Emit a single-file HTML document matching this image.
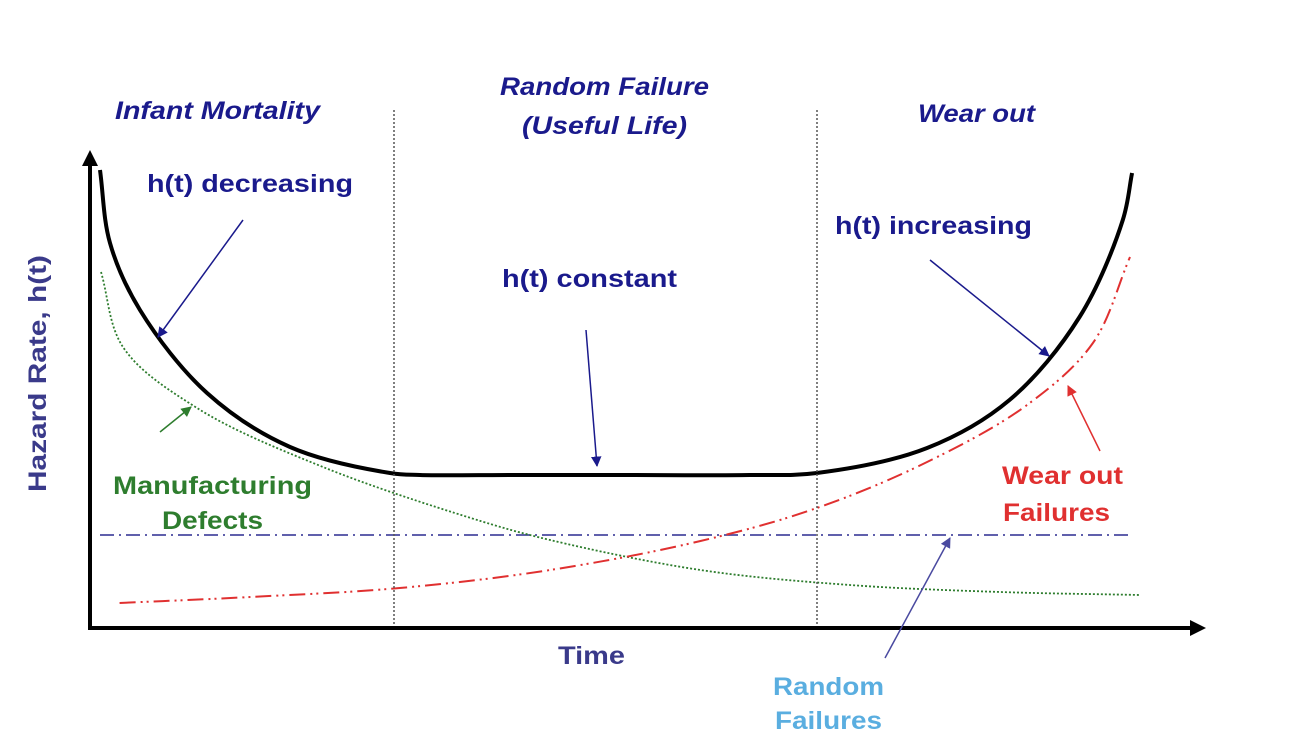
<!DOCTYPE html>
<html><head><meta charset="utf-8"><style>
html,body{margin:0;padding:0;background:#fff}
svg{display:block}
text{font-family:"Liberation Sans",sans-serif;font-weight:bold}
</style></head><body>
<svg width="1296" height="742" viewBox="0 0 1296 742">
<defs>
<marker id="ahn" viewBox="0 0 10 10" refX="9" refY="5" markerWidth="7" markerHeight="7" orient="auto"><path d="M0,0L10,5L0,10z" fill="#1a1a8c"/></marker>
<marker id="ahg" viewBox="0 0 10 10" refX="9" refY="5" markerWidth="7" markerHeight="7" orient="auto"><path d="M0,0L10,5L0,10z" fill="#2e7d2e"/></marker>
<marker id="ahr" viewBox="0 0 10 10" refX="9" refY="5" markerWidth="7" markerHeight="7" orient="auto"><path d="M0,0L10,5L0,10z" fill="#e03030"/></marker>
<marker id="ahb" viewBox="0 0 10 10" refX="9" refY="5" markerWidth="7" markerHeight="7" orient="auto"><path d="M0,0L10,5L0,10z" fill="#4a4aa0"/></marker>
<marker id="axa" viewBox="0 0 10 10" refX="5" refY="5" markerWidth="4" markerHeight="4" orient="auto"><path d="M0,0L10,5L0,10z" fill="#000"/></marker>
</defs>
<g id="plot"></g>
<line x1="394" y1="110" x2="394" y2="628" stroke="#555" stroke-width="1.5" stroke-dasharray="2,2"/>
<line x1="817" y1="110" x2="817" y2="628" stroke="#555" stroke-width="1.5" stroke-dasharray="2,2"/>
<line x1="90" y1="630" x2="90" y2="158" stroke="#000" stroke-width="4" marker-end="url(#axa)"/>
<line x1="88" y1="628" x2="1198" y2="628" stroke="#000" stroke-width="4" marker-end="url(#axa)"/>
<text x="115" y="119" font-size="25" font-style="italic" fill="#1a1a8c" textLength="205" lengthAdjust="spacingAndGlyphs">Infant Mortality</text>
<text x="500" y="95" font-size="25" font-style="italic" fill="#1a1a8c" textLength="209" lengthAdjust="spacingAndGlyphs">Random Failure</text>
<text x="522" y="134" font-size="25" font-style="italic" fill="#1a1a8c" textLength="165" lengthAdjust="spacingAndGlyphs">(Useful Life)</text>
<text x="918" y="122" font-size="25" font-style="italic" fill="#1a1a8c" textLength="117" lengthAdjust="spacingAndGlyphs">Wear out</text>
<text x="147" y="192" font-size="25" fill="#1a1a8c" textLength="206" lengthAdjust="spacingAndGlyphs">h(t) decreasing</text>
<text x="502" y="287" font-size="25" fill="#1a1a8c" textLength="175" lengthAdjust="spacingAndGlyphs">h(t) constant</text>
<text x="835" y="234" font-size="25" fill="#1a1a8c" textLength="197" lengthAdjust="spacingAndGlyphs">h(t) increasing</text>
<text x="113" y="494" font-size="25" fill="#2e7d2e" textLength="199" lengthAdjust="spacingAndGlyphs">Manufacturing</text>
<text x="162" y="529" font-size="25" fill="#2e7d2e" textLength="101" lengthAdjust="spacingAndGlyphs">Defects</text>
<text x="1002" y="484" font-size="25" fill="#e03030" textLength="121" lengthAdjust="spacingAndGlyphs">Wear out</text>
<text x="1003" y="521" font-size="25" fill="#e03030" textLength="107" lengthAdjust="spacingAndGlyphs">Failures</text>
<text x="558" y="664" font-size="25" fill="#3a3a8a" textLength="67" lengthAdjust="spacingAndGlyphs">Time</text>
<text x="773" y="695" font-size="25" fill="#5aaee0" textLength="111" lengthAdjust="spacingAndGlyphs">Random</text>
<text x="775" y="729" font-size="25" fill="#5aaee0" textLength="107" lengthAdjust="spacingAndGlyphs">Failures</text>
<text transform="translate(46,492) rotate(-90)" font-size="25" fill="#3a3a8a" textLength="237" lengthAdjust="spacingAndGlyphs">Hazard Rate, h(t)</text>
<line x1="243" y1="220" x2="158" y2="337" stroke="#1a1a8c" stroke-width="1.5" marker-end="url(#ahn)"/>
<line x1="586" y1="330" x2="597" y2="466" stroke="#1a1a8c" stroke-width="1.5" marker-end="url(#ahn)"/>
<line x1="930" y1="260" x2="1049" y2="356" stroke="#1a1a8c" stroke-width="1.5" marker-end="url(#ahn)"/>
<line x1="160" y1="432" x2="191" y2="407" stroke="#2e7d2e" stroke-width="1.5" marker-end="url(#ahg)"/>
<line x1="1100" y1="451" x2="1068" y2="386" stroke="#e03030" stroke-width="1.5" marker-end="url(#ahr)"/>
<line x1="885" y1="658" x2="950" y2="538" stroke="#4a4aa0" stroke-width="1.5" marker-end="url(#ahb)"/>
</svg>
<script>
const bathT=[0,0.97,3.88,10.39,18.45,28.16,31.07,40,50,63.1,69.6,80.3,88.3,95.1,99.3,100.2];
const bathH=[91.6,77,63.6,47,36.2,31,30.6,30.6,30.6,30.6,31,36,45.6,62.2,81.6,91];
const mfgT=[0.1,2.23,9.42,21.65,36,43.7,58.3,72.8,87.4,101];
const mfgH=[71.2,56.2,44,32.2,22,17.6,11.6,8.6,7.2,6.6];
const wearT=[1.9,14.6,29.1,43.7,58.3,69.6,80.3,90,96.4,100];
const wearH=[5,6.2,8,11.6,17.4,24,33.2,44.6,57,74.2];
const randT=[0,100];
const randH=[18.6,18.6];
const sx=t=>100+t*10.3, sy=h=>628-h*5;
function path(T,H){
  const p=T.map((t,i)=>[sx(t),sy(H[i])]), n=p.length;
  const dist=(a,b)=>Math.hypot(a[0]-b[0],a[1]-b[1]);
  let s=`M${p[0][0]},${p[0][1]}`;
  for(let i=0;i<n-1;i++){
    const P0=p[i-1]||p[i],P1=p[i],P2=p[i+1],P3=p[i+2]||p[i+1];
    const l01=dist(P0,P1),l12=dist(P1,P2),l23=dist(P2,P3);
    const d1=Math.sqrt(l01),d2=Math.sqrt(l12),d3=Math.sqrt(l23);
    let b1,b2;
    if(l01>1e-6){const a=2*l01+3*d1*d2+l12,nn=3*d1*(d1+d2);
      b1=[(P1[0]*a-P0[0]*l12+P2[0]*l01)/nn,(P1[1]*a-P0[1]*l12+P2[1]*l01)/nn];}
    else b1=[P1[0]+(P2[0]-P1[0])/3,P1[1]+(P2[1]-P1[1])/3];
    if(l23>1e-6){const a=2*l23+3*d3*d2+l12,nn=3*d3*(d3+d2);
      b2=[(P2[0]*a+P1[0]*l23-P3[0]*l12)/nn,(P2[1]*a+P1[1]*l23-P3[1]*l12)/nn];}
    else b2=[P2[0]-(P2[0]-P1[0])/3,P2[1]-(P2[1]-P1[1])/3];
    s+=`C${b1[0]},${b1[1]} ${b2[0]},${b2[1]} ${P2[0]},${P2[1]}`;
  }
  return s;
}
const g=document.getElementById('plot');
function add(T,H,stroke,w,dash,name){
  const el=document.createElementNS('http://www.w3.org/2000/svg','path');
  el.setAttribute('d',path(T,H));el.setAttribute('fill','none');
  el.setAttribute('stroke',stroke);el.setAttribute('stroke-width',w);
  if(dash)el.setAttribute('stroke-dasharray',dash);
  
  
  g.appendChild(el);
}
add(randT,randH,'#4a4aa0',1.8,'14,5,2,5','random-failures-line');
add(mfgT,mfgH,'#2e7d2e',1.8,'2,2','manufacturing-defects-curve');
add(wearT,wearH,'#e03030',2,'16,5,2,4,2,5','wear-out-curve');
add(bathT,bathH,'#000',4,null,'bathtub-curve');
</script>
</body></html>
